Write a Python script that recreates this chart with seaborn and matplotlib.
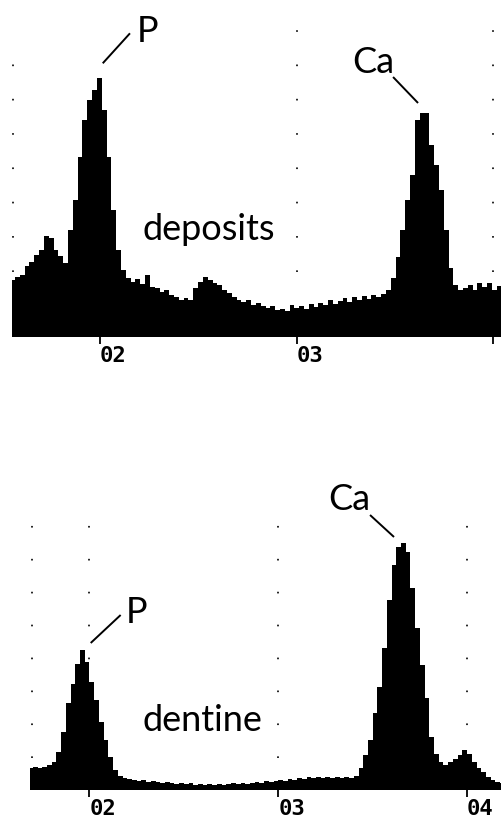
import numpy as np
import pandas as pd
import seaborn as sns
from matplotlib import pyplot as plt

# EDX spectra, one count value per channel (arbitrary units)
deposits_start, deposits_step = 1.555, 0.0245   # keV
deposits_counts = [57, 60, 62, 71, 75, 82, 87, 101, 99, 87,
                   81, 74, 107, 137, 180, 217, 237, 247, 259, 227,
                   180, 127, 87, 67, 59, 55, 58, 53, 62, 50,
                   49, 45, 47, 42, 40, 37, 39, 37, 49, 55,
                   60, 57, 54, 52, 47, 44, 40, 37, 35, 37,
                   32, 34, 31, 29, 31, 27, 28, 26, 32, 29,
                   31, 28, 33, 30, 34, 32, 37, 33, 36, 39,
                   35, 40, 37, 41, 38, 42, 40, 43, 47, 59,
                   80, 107, 137, 162, 217, 224, 224, 192, 172, 147,
                   107, 69, 52, 47, 49, 52, 47, 54, 50, 54,
                   47, 51, 47]

dentine_start, dentine_step = 1.6875, 0.025   # keV
dentine_counts = [22, 23, 22, 23, 25, 28, 38, 58, 87, 106,
                  126, 140, 128, 108, 90, 68, 50, 33, 20, 14,
                  12, 11, 10, 9, 10, 8, 9, 8, 7, 8,
                  7, 6, 7, 6, 7, 5, 6, 5, 6, 5,
                  6, 5, 6, 7, 6, 7, 6, 7, 8, 7,
                  9, 8, 9, 10, 9, 11, 10, 12, 11, 13,
                  12, 13, 12, 13, 12, 13, 12, 13, 12, 14,
                  22, 35, 50, 77, 103, 142, 190, 225, 243, 247,
                  238, 202, 162, 125, 92, 53, 36, 28, 25, 28,
                  31, 35, 40, 36, 28, 22, 18, 13, 10, 8,
                  7]

tick_values = [2, 3, 4]
tick_labels_top = ["02", "03", ""]
tick_labels_bottom = ["02", "03", "04"]


def spectrum_frame(start, step, counts):
    kev = start + step * np.arange(len(counts))
    return pd.DataFrame({"kev": kev, "counts": counts}), step


def draw_spectrum(ax, df, step, xlim, ylim, ticklabels):
    lo = df["kev"].iloc[0] - step / 2
    hi = df["kev"].iloc[-1] + step / 2
    sns.histplot(data=df, x="kev", weights="counts", binwidth=step,
                 binrange=(lo, hi), element="step", fill=True,
                 color="black", alpha=1, linewidth=0, ax=ax)
    ax.set_xlim(*xlim)
    ax.set_ylim(*ylim)
    ax.set_xlabel("")
    ax.set_ylabel("")
    ax.set_yticks([])
    ax.set_xticks(tick_values)
    ax.set_xticklabels(ticklabels, fontfamily="DejaVu Sans Mono",
                       fontweight="bold", fontsize=16)
    for lab in ax.get_xticklabels():
        lab.set_horizontalalignment("left")
    ax.tick_params(axis="x", direction="out", length=5, width=1.3, pad=1.5,
                   color="black", labelcolor="black", bottom=True)
    sns.despine(ax=ax, left=True, bottom=True)
    ax.patch.set_alpha(0)


sns.set_theme(style="white")
plt.rcParams["lines.scale_dashes"] = False
plt.rcParams["font.family"] = ["Lato", "Liberation Sans", "DejaVu Sans"]

fig = plt.figure(figsize=(5.02, 8.18), dpi=100)
label_kw = dict(fontsize=26, fontweight="normal", color="black", clip_on=False)
line_kw = dict(color="black", lw=1.4, solid_capstyle="butt")

# top panel: deposits
ax1 = fig.add_axes([12 / 502, 481 / 818, 490 / 502, 327 / 818])
df_dep, st = spectrum_frame(deposits_start, deposits_step, deposits_counts)
draw_spectrum(ax1, df_dep, st, (1.552, 4.044), (0, 327), tick_labels_top)
dots = (0, (1.2, 23.5))
ax1.vlines([deposits_start], 65, 275, colors="black", linestyles=[dots], lw=1.2)
ax1.vlines([3.0, 4.0], 65, 310, colors="black", linestyles=[dots], lw=1.2)
ax1.plot([2.0135, 2.152], [273.7, 303.7], **line_kw)
ax1.plot([3.490, 3.617], [260, 234], **line_kw)
ax1.text(2.188, 295, "P", ha="left", va="baseline", **label_kw)
ax1.text(3.281, 264, "Ca", ha="left", va="baseline", **label_kw)
ax1.text(2.218, 97, "deposits", ha="left", va="baseline", **label_kw)

# bottom panel: dentine
ax2 = fig.add_axes([30.5 / 502, 28 / 818, 471.5 / 502, 320 / 818])
df_den, st = spectrum_frame(dentine_start, dentine_step, dentine_counts)
draw_spectrum(ax2, df_den, st, (1.6875, 4.185), (0, 320), tick_labels_bottom)
dots2 = (0, (1.2, 22.5))
ax2.vlines([dentine_start + 0.01, 2.0, 3.0, 4.0], 32, 265, colors="black",
           linestyles=[dots2], lw=1.2)
ax2.plot([2.0064, 2.165], [147, 175], **line_kw)
ax2.plot([3.486, 3.613], [275, 253], **line_kw)
ax2.text(2.193, 167, "P", ha="left", va="baseline", **label_kw)
ax2.text(3.263, 280, "Ca", ha="left", va="baseline", **label_kw)
ax2.text(2.283, 59, "dentine", ha="left", va="baseline", **label_kw)

fig.savefig("out.png", dpi=100, facecolor="white")
